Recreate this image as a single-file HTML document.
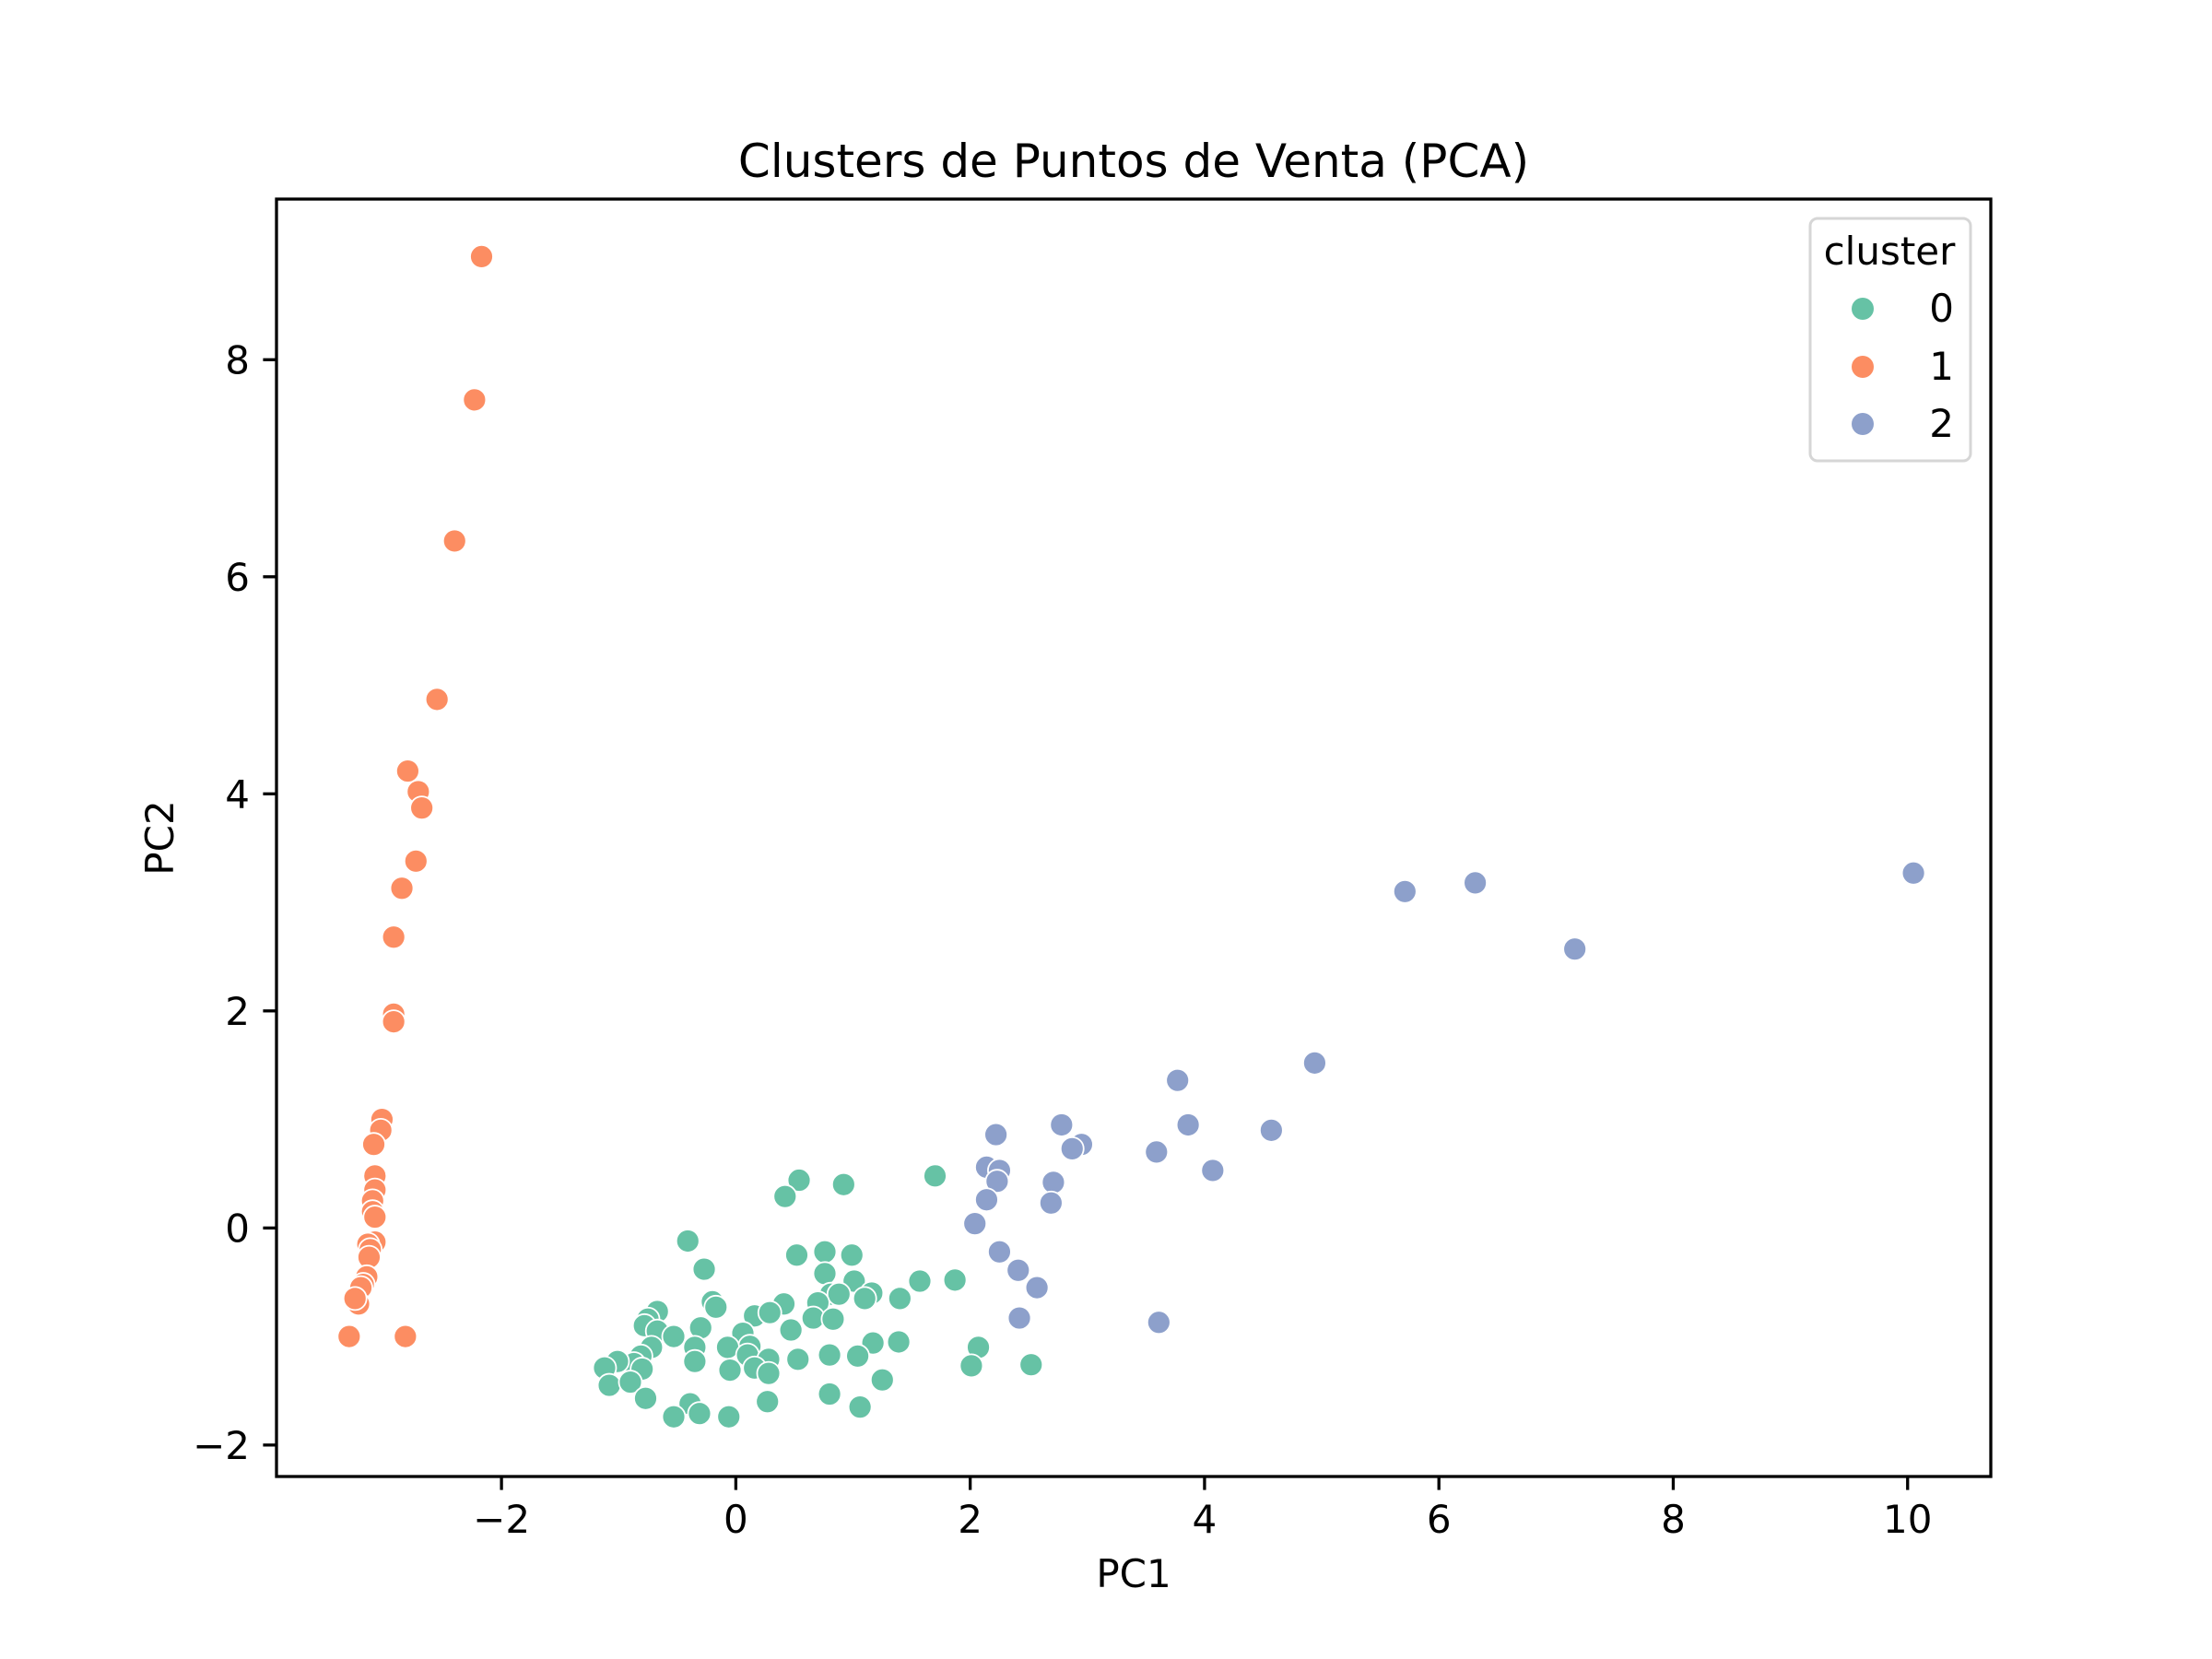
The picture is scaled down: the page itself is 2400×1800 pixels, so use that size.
<!DOCTYPE html>
<html><head><meta charset="utf-8"><style>
html,body{margin:0;padding:0;background:#fff;}
svg{display:block;font-family:"DejaVu Sans","Liberation Sans",sans-serif;}
</style></head><body>
<svg id="chart" width="2400" height="1800" viewBox="0 0 2400 1800">
<rect width="2400" height="1800" fill="#fff"/>
<text x="1230" y="192" font-size="50" text-anchor="middle">Clusters de Puntos de Venta (PCA)</text>
<g id="points"></g>
<rect x="300" y="216" width="1860" height="1386" fill="none" stroke="#000" stroke-width="3.3"/>
<g id="xticks"></g>
<g id="yticks"></g>
<text x="1230" y="1722" font-size="42" text-anchor="middle">PC1</text>
<text x="0" y="0" font-size="42" text-anchor="middle" transform="translate(188,909) rotate(-90)">PC2</text>
<g>
<rect x="1964" y="237" width="174" height="263" rx="8" fill="#fff" fill-opacity="0.8" stroke="#d6d6d6" stroke-width="3"/>
<text x="2050" y="287" font-size="42" text-anchor="middle">cluster</text>
<circle cx="2021" cy="335" r="12" fill="#66c2a5"/>
<text x="2120" y="349" font-size="42" text-anchor="end">0</text>
<circle cx="2021" cy="398" r="12" fill="#fc8d62"/>
<text x="2120" y="412" font-size="42" text-anchor="end">1</text>
<circle cx="2021" cy="460" r="12" fill="#8da0cb"/>
<text x="2120" y="474" font-size="42" text-anchor="end">2</text>
</g>
</svg>
<script>
const xTicks = [-2, 0, 2, 4, 6, 8, 10];
const yTicks = [-2, 0, 2, 4, 6, 8];
const cluster0X = [0.54,0.42,0.92,1.70,-0.41,-0.27,0.52,0.76,0.99,0.76,1.01,1.16,1.57,1.87,1.10,0.81,0.88,1.40,-0.20,-0.17,0.41,0.70,0.66,0.83,0.16,0.29,0.47,-0.67,-0.75,-0.78,-0.67,-0.53,-0.30,0.06,-0.72,-0.35,0.12,1.17,1.39,2.07,-0.07,0.10,0.28,0.53,0.80,1.04,2.01,2.52,-0.81,-0.87,-1.01,-1.12,-0.80,-0.35,-0.05,0.16,0.28,1.25,-1.08,-0.90,-0.77,0.27,0.80,-0.39,-0.53,-0.31,-0.06,1.06];
const cluster0Y = [0.44,0.29,0.40,0.48,-0.12,-0.38,-0.25,-0.22,-0.25,-0.42,-0.49,-0.60,-0.49,-0.48,-0.65,-0.61,-0.61,-0.65,-0.68,-0.73,-0.70,-0.69,-0.83,-0.84,-0.81,-0.78,-0.94,-0.77,-0.84,-0.90,-0.95,-1.00,-0.92,-0.97,-1.10,-1.10,-1.09,-1.06,-1.05,-1.10,-1.10,-1.17,-1.21,-1.21,-1.17,-1.18,-1.27,-1.26,-1.18,-1.25,-1.23,-1.29,-1.30,-1.23,-1.31,-1.29,-1.34,-1.40,-1.45,-1.42,-1.57,-1.60,-1.53,-1.62,-1.74,-1.71,-1.74,-1.65];
const cluster1X = [-2.17,-2.23,-2.40,-2.55,-2.80,-2.71,-2.68,-2.73,-2.85,-2.92,-2.92,-2.92,-3.02,-3.03,-3.09,-3.08,-3.08,-3.10,-3.10,-3.08,-3.08,-3.14,-3.12,-3.13,-3.15,-3.18,-3.20,-3.22,-3.25,-3.30,-2.82];
const cluster1Y = [8.95,7.63,6.33,4.87,4.21,4.02,3.87,3.38,3.13,2.68,1.97,1.90,1.00,0.90,0.77,0.48,0.35,0.25,0.15,0.10,-0.13,-0.15,-0.20,-0.27,-0.45,-0.52,-0.55,-0.70,-0.65,-1.00,-1.00];
const cluster2X = [10.05,6.31,5.71,7.16,4.94,3.77,2.78,3.86,4.57,2.22,2.95,2.87,3.59,4.07,2.14,2.25,2.23,2.71,2.14,2.69,2.04,2.25,2.41,2.57,2.42,3.61];
const cluster2Y = [3.27,3.18,3.10,2.57,1.52,1.36,0.95,0.95,0.90,0.86,0.77,0.73,0.70,0.53,0.56,0.53,0.43,0.42,0.26,0.23,0.04,-0.22,-0.39,-0.55,-0.83,-0.87];

const NS = 'http://www.w3.org/2000/svg';
const X0 = 300, X1 = 2160, Y0 = 216, Y1 = 1602;
const xMin = -3.92, xMax = 10.71, yMin = -2.29, yMax = 9.48;
function sx(v){ return X0 + (v - xMin) / (xMax - xMin) * (X1 - X0); }
function sy(v){ return Y1 - (v - yMin) / (yMax - yMin) * (Y1 - Y0); }
function fmt(v){ return v < 0 ? '\u2212' + Math.abs(v) : String(v); }

const pts = document.getElementById('points');
function drawSeries(xs, ys, color, name){
  for (let i = 0; i < xs.length; i++){
    const c = document.createElementNS(NS, 'circle');
    c.setAttribute('cx', sx(xs[i]));
    c.setAttribute('cy', sy(ys[i]));
    c.setAttribute('r', 12.5);
    c.setAttribute('fill', color);
    c.setAttribute('stroke', '#fff');
    c.setAttribute('stroke-width', 1.8);
    
    
    pts.appendChild(c);
  }
}
drawSeries(cluster0X, cluster0Y, '#66c2a5', 'point-cluster-0');
drawSeries(cluster1X, cluster1Y, '#fc8d62', 'point-cluster-1');
drawSeries(cluster2X, cluster2Y, '#8da0cb', 'point-cluster-2');

const xg = document.getElementById('xticks');
xTicks.forEach(t => {
  const x = sx(t);
  const l = document.createElementNS(NS, 'line');
  l.setAttribute('x1', x); l.setAttribute('x2', x);
  l.setAttribute('y1', Y1); l.setAttribute('y2', Y1 + 14.6);
  l.setAttribute('stroke', '#000'); l.setAttribute('stroke-width', 3.3);
  
  
  xg.appendChild(l);
  const tx = document.createElementNS(NS, 'text');
  tx.setAttribute('x', x); tx.setAttribute('y', 1663);
  tx.setAttribute('font-size', 42); tx.setAttribute('text-anchor', 'middle');
  tx.textContent = fmt(t);
  
  
  xg.appendChild(tx);
});
const yg = document.getElementById('yticks');
yTicks.forEach(t => {
  const y = sy(t);
  const l = document.createElementNS(NS, 'line');
  l.setAttribute('x1', X0 - 14.6); l.setAttribute('x2', X0);
  l.setAttribute('y1', y); l.setAttribute('y2', y);
  l.setAttribute('stroke', '#000'); l.setAttribute('stroke-width', 3.3);
  
  
  yg.appendChild(l);
  const tx = document.createElementNS(NS, 'text');
  tx.setAttribute('x', 271); tx.setAttribute('y', y + 15);
  tx.setAttribute('font-size', 42); tx.setAttribute('text-anchor', 'end');
  tx.textContent = fmt(t);
  
  
  yg.appendChild(tx);
});
</script>
</body></html>
